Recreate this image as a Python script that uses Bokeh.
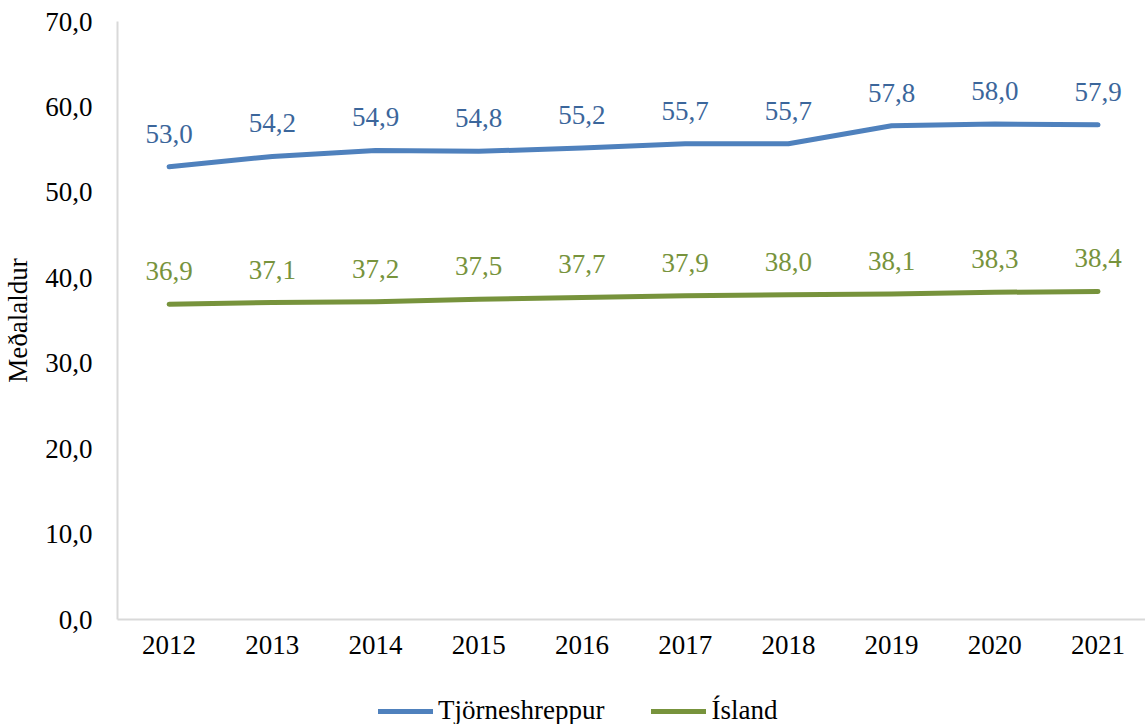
from bokeh.plotting import figure
from bokeh.layouts import column
from bokeh.models import ColumnDataSource, Range1d, FixedTicker, Legend, LegendItem
from bokeh.core.properties import value
from bokeh.embed import file_html
from bokeh.resources import INLINE

years = [2012, 2013, 2014, 2015, 2016, 2017, 2018, 2019, 2020, 2021]
tjornes = [53.0, 54.2, 54.9, 54.8, 55.2, 55.7, 55.7, 57.8, 58.0, 57.9]
island = [36.9, 37.1, 37.2, 37.5, 37.7, 37.9, 38.0, 38.1, 38.3, 38.4]
y_ticks = [0, 10, 20, 30, 40, 50, 60, 70]
series_names = ["Tjörneshreppur", "Ísland"]
y_title = "Meðalaldur"

FONT = "Liberation Serif"
FS = "27px"
BLUE = "#4F81BD"
GREEN = "#77933C"

def fmt(v):
    return f"{v:.1f}".replace(".", ",")

p = figure(width=1145, height=670, output_backend="svg", toolbar_location=None,
           x_range=Range1d(2011.5, 2021.46), y_range=Range1d(0, 70),
           min_border_left=117, min_border_top=21, min_border_right=0,
           min_border_bottom=51)
p.outline_line_color = None
p.xgrid.grid_line_color = None
p.ygrid.grid_line_color = None

src1 = ColumnDataSource(dict(x=years, y=tjornes, t=[fmt(v) for v in tjornes]))
src2 = ColumnDataSource(dict(x=years, y=island, t=[fmt(v) for v in island]))

p.line("x", "y", source=src1, line_color=BLUE, line_width=5, line_cap="round", line_join="round")
p.line("x", "y", source=src2, line_color=GREEN, line_width=5, line_cap="round", line_join="round")

p.text("x", "y", text="t", source=src1, text_font=value(FONT), text_font_size=FS,
       text_color="#3B669B", text_align="center", text_baseline="middle", y_offset=-33)
p.text("x", "y", text="t", source=src2, text_font=value(FONT), text_font_size=FS,
       text_color=GREEN, text_align="center", text_baseline="middle", y_offset=-33)

# axes
p.xaxis.ticker = FixedTicker(ticks=years)
p.xaxis.major_label_overrides = {y: str(y) for y in years}
p.yaxis.ticker = FixedTicker(ticks=y_ticks)
p.yaxis.major_label_overrides = {t: fmt(t) for t in y_ticks}
for ax in (p.xaxis, p.yaxis):
    ax.major_tick_line_color = None
    ax.minor_tick_line_color = None
    ax.major_tick_out = 0
    ax.major_tick_in = 0
    ax.axis_line_color = "#D9D9D9"
    ax.axis_line_width = 2
    ax.major_label_text_font = FONT
    ax.major_label_text_font_size = FS
    ax.major_label_text_color = "#000000"
p.xaxis.major_label_standoff = 16
p.yaxis.major_label_standoff = 25
p.yaxis.axis_label = y_title
p.yaxis.axis_label_text_font = FONT
p.yaxis.axis_label_text_font_size = FS
p.yaxis.axis_label_text_font_style = "normal"
p.yaxis.axis_label_text_color = "#000000"
p.yaxis.axis_label_standoff = 9

# legend strip below the chart (same series, lines kept out of view)
p2 = figure(width=1145, height=54, output_backend="svg", toolbar_location=None,
            x_axis_type=None, y_axis_type=None,
            x_range=Range1d(0, 1), y_range=Range1d(0, 1),
            min_border_left=0, min_border_right=0, min_border_top=0, min_border_bottom=0)
p2.outline_line_color = None
p2.grid.grid_line_color = None
l1 = p2.line("x", "y", source=src1, line_color=BLUE, line_width=5, line_cap="round")
l2 = p2.line("x", "y", source=src2, line_color=GREEN, line_width=5, line_cap="round")

legend = Legend(items=[LegendItem(label=series_names[0], renderers=[l1]),
                       LegendItem(label=series_names[1], renderers=[l2])],
                orientation="horizontal", location=(261, -2),
                glyph_width=55, glyph_height=20, label_standoff=5, spacing=47,
                padding=0, margin=0, border_line_color=None, background_fill_alpha=0,
                label_text_font=FONT, label_text_font_size=FS, label_text_color="#000000")
p2.add_layout(legend, "center")

open("out.html", "w").write(file_html(column(p, p2, spacing=0), INLINE))
